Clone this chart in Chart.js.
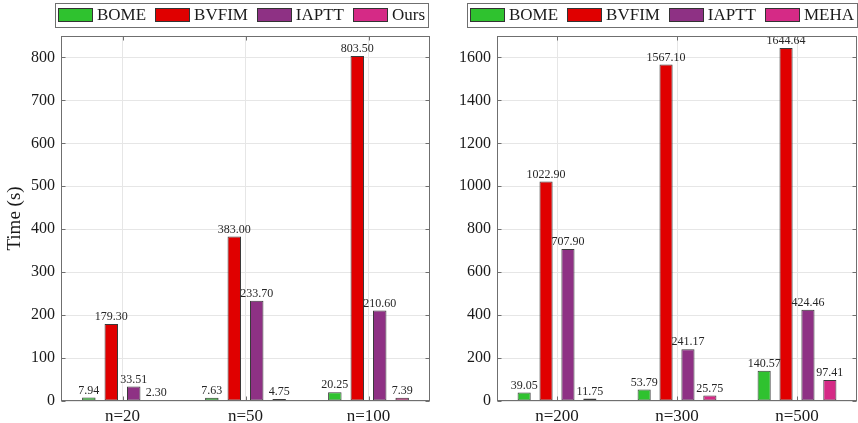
<!DOCTYPE html>
<html><head><meta charset="utf-8">
<script src="https://cdn.jsdelivr.net/npm/chart.js@4.4.1/dist/chart.umd.min.js"></script>
<style>
html,body{margin:0;padding:0;background:#fff;}
#wrap{position:relative;width:858px;height:423px;overflow:hidden;}
canvas{position:absolute;top:0;}
#left{left:0;} #right{left:432px;}
</style></head><body>
<div id="wrap">
<canvas id="left" width="432" height="423"></canvas>
<canvas id="right" width="426" height="423"></canvas>
</div>
<script>
const categoriesLeft = ['n=20', 'n=50', 'n=100'];
const bomeLeft = [7.94, 7.63, 20.25];
const bvfimLeft = [179.30, 383.00, 803.50];
const iapttLeft = [33.51, 233.70, 210.60];
const oursLeft = [2.30, 4.75, 7.39];

const categoriesRight = ['n=200', 'n=300', 'n=500'];
const bomeRight = [39.05, 53.79, 140.57];
const bvfimRight = [1022.90, 1567.10, 1644.64];
const iapttRight = [707.90, 241.17, 424.46];
const mehaRight = [11.75, 25.75, 97.41];

const namesLeft = ['BOME', 'BVFIM', 'IAPTT', 'Ours'];
const namesRight = ['BOME', 'BVFIM', 'IAPTT', 'MEHA'];
const colors = ['#2fc22f', '#e00000', '#8e3184', '#d52a86'];

const FONT = "'Liberation Serif', 'DejaVu Serif', serif";
const EDGE = '#6f6f6f';
const GRID = '#e6e6e6';

function customPlugin(legendBox) {
  return {
    id: 'custom',
    afterDatasetsDraw(chart) {
      const ctx = chart.ctx;
      ctx.save();
      ctx.font = '12px ' + FONT;
      ctx.fillStyle = '#262626';
      ctx.textAlign = 'center';
      ctx.textBaseline = 'bottom';
      chart.data.datasets.forEach((ds, i) => {
        const meta = chart.getDatasetMeta(i);
        meta.data.forEach((bar, j) => {
          ctx.fillText(ds.data[j].toFixed(2), bar.x, bar.y - 1);
        });
      });
      ctx.restore();
    },
    afterDraw(chart) {
      const ctx = chart.ctx;
      const a = chart.chartArea;
      const L = Math.round(a.left) + 0.5, R = Math.round(a.right) - 0.5;
      const T = Math.round(a.top) + 0.5, B = Math.round(a.bottom) - 0.5;
      ctx.save();
      ctx.strokeStyle = EDGE;
      ctx.lineWidth = 1;
      const ys = chart.scales.y;
      ctx.beginPath();
      ys.ticks.forEach(t => {
        const y = Math.round(ys.getPixelForValue(t.value)) + 0.5;
        ctx.moveTo(L, y); ctx.lineTo(L + 4, y);
        ctx.moveTo(R, y); ctx.lineTo(R - 4, y);
      });
      const xs = chart.scales.x;
      xs.ticks.forEach((t, i) => {
        const x = Math.round(xs.getPixelForTick(i)) + 0.5;
        ctx.moveTo(x, B); ctx.lineTo(x, B - 4);
        ctx.moveTo(x, T); ctx.lineTo(x, T + 4);
      });
      ctx.stroke();
      ctx.strokeRect(L, T, R - L, B - T);

      const b = legendBox;
      ctx.strokeRect(b.x + 0.5, b.y + 0.5, b.w, b.h);
      ctx.font = '17px ' + FONT;
      const sw = 35, sh = 14, tg = 4, pad = 3;
      const items = chart.data.datasets.map(d => ({label: d.label, color: d.backgroundColor, tw: ctx.measureText(d.label).width}));
      const used = items.reduce((s, it) => s + sw + tg + it.tw, 0);
      const gap = (b.w - 2 * pad - used) / (items.length - 1);
      let x = b.x + pad;
      const cy = b.y + b.h / 2;
      items.forEach(it => {
        ctx.fillStyle = it.color;
        ctx.fillRect(Math.round(x), Math.round(cy - sh / 2), sw, sh);
        ctx.strokeStyle = '#333';
        ctx.strokeRect(Math.round(x) + 0.5, Math.round(cy - sh / 2) + 0.5, sw - 1, sh - 1);
        ctx.fillStyle = '#1a1a1a';
        ctx.textAlign = 'left';
        ctx.textBaseline = 'middle';
        ctx.fillText(it.label, x + sw + tg, cy + 1);
        x += sw + tg + it.tw + gap;
      });
      ctx.restore();
    }
  };
}

function makeChart(id, cats, series, names, yMax, yStep, yWidth, padRight, showTitle, legendBox) {
  const datasets = series.map((s, i) => ({
    label: names[i],
    data: s,
    backgroundColor: colors[i],
    borderColor: '#3a3a3a',
    borderWidth: 1,
    borderSkipped: false,
    barPercentage: 0.6,
    categoryPercentage: 0.73
  }));
  return new Chart(document.getElementById(id), {
    type: 'bar',
    data: { labels: cats, datasets },
    options: {
      responsive: false,
      animation: false,
      devicePixelRatio: 1,
      layout: { padding: { top: 36, right: padRight, left: 0, bottom: 0 } },
      plugins: { legend: { display: false }, tooltip: { enabled: false } },
      scales: {
        x: {
          grid: { color: GRID, offset: false, drawTicks: false },
          border: { display: false },
          ticks: { font: { family: FONT, size: 17 }, color: '#1a1a1a', padding: 5 },
          afterFit(s) { s.height = 22; }
        },
        y: {
          min: 0, max: yMax,
          grid: { color: GRID, drawTicks: false },
          border: { display: false },
          ticks: { stepSize: yStep, includeBounds: false, font: { family: FONT, size: 16 }, color: '#1a1a1a', padding: 6,
                   callback: v => String(v) },
          title: { display: showTitle, text: 'Time (s)', font: { family: FONT, size: 19 }, color: '#1a1a1a', padding: { top: 4, bottom: 0 } },
          afterFit(s) { s.width = yWidth; }
        }
      }
    },
    plugins: [customPlugin(legendBox)]
  });
}

makeChart('left', categoriesLeft, [bomeLeft, bvfimLeft, iapttLeft, oursLeft], namesLeft, 850, 100, 61, 2, true, {x: 55, y: 3, w: 373, h: 24});
makeChart('right', categoriesRight, [bomeRight, bvfimRight, iapttRight, mehaRight], namesRight, 1700, 200, 65, 1, false, {x: 35, y: 3, w: 390, h: 24});
</script>
</body></html>
